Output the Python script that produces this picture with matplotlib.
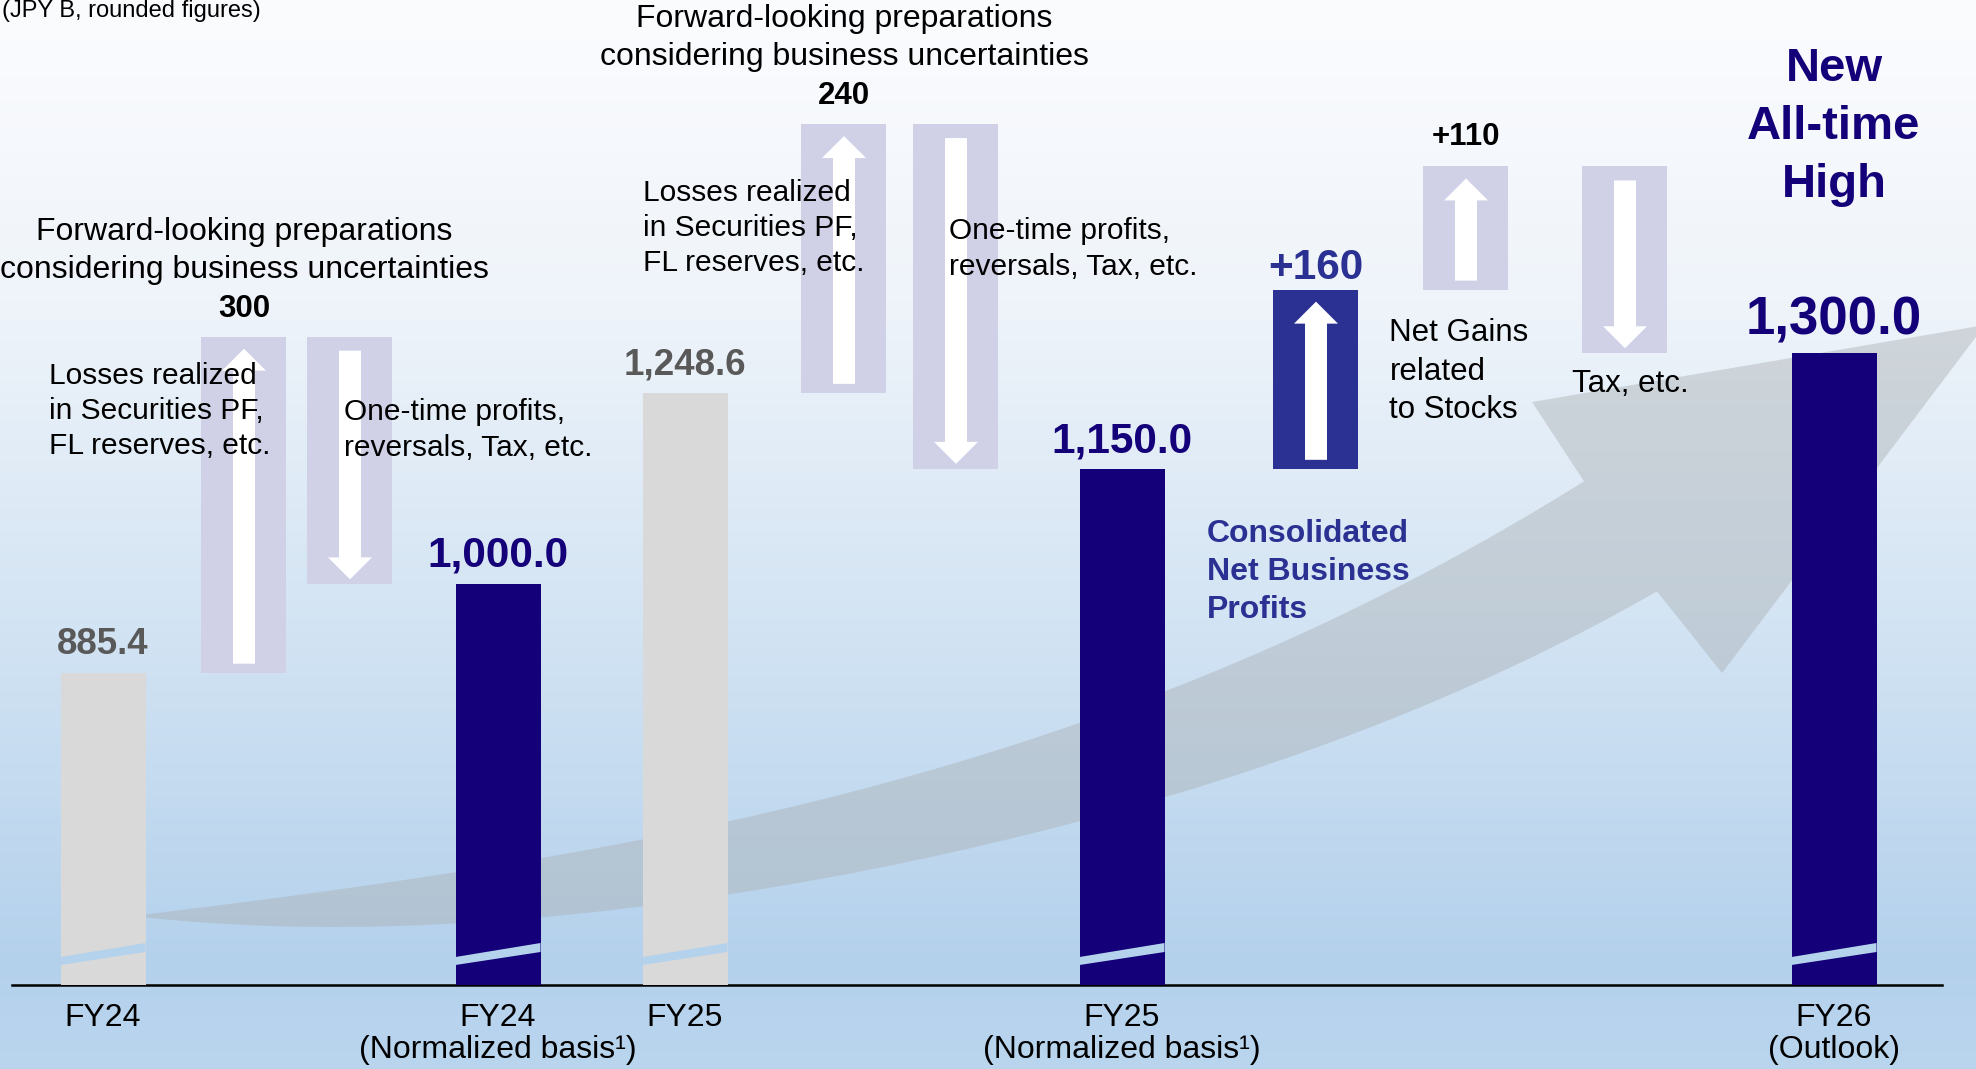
import numpy as np
import matplotlib.pyplot as plt
from matplotlib.patches import Polygon, FancyArrow
from matplotlib.colors import to_rgb

plt.rcParams['font.family'] = ['Liberation Sans', 'DejaVu Sans']

# Data (JPY B, rounded figures)
periods = ["FY24", "FY24\n(Normalized basis\u00b9)", "FY25",
           "FY25\n(Normalized basis\u00b9)", "FY26\n(Outlook)"]
profits = [885.4, 1000.0, 1248.6, 1150.0, 1300.0]
normalized = [False, True, False, True, True]
prep_fy24 = 300      # forward-looking preparations FY24
prep_fy25 = 240      # forward-looking preparations FY25
cnbp_gain = 160      # consolidated net business profits
stock_gain = 110     # net gains related to stocks

# Layout (pixel units, y from the top)
W, H = 1976, 1069
bar_x = [103, 498, 685, 1122, 1834]
box_x = [244, 350, 844, 956, 1316, 1466, 1625]
bar_w = 85
base_px = 985
floor = 480            # value sitting on the (broken) baseline
px_per_val = 0.7704
px_per_delta = 1.12

grey_bar = "#D9D9D9"
navy = "#140078"
mid_navy = "#2A3192"
lavender = "#D0D0E6"

fig = plt.figure(figsize=(W / 100, H / 100), dpi=100)

# background gradient + big grey trend arrow
bg = fig.add_axes([0, 0, 1, 1], zorder=0)
bg.set_xlim(0, W)
bg.set_ylim(H, 0)
bg.axis("off")
stop_y = [0, 300, 600, 960, 1069]
stop_c = [to_rgb(c) for c in ["#FBFCFE", "#EFF4FA", "#D5E5F4", "#B4D1EC", "#BAD5EE"]]
yy = np.arange(H)
grad = np.stack([np.interp(yy, stop_y, [c[i] for c in stop_c]) for i in range(3)], axis=-1)
bg.imshow(grad[:, None, :], extent=[0, W, H, 0], aspect="auto", zorder=0)

up_x = [146, 272, 456, 642, 727, 892, 1080, 1165, 1267, 1373, 1584]
up_y = [915, 897, 873, 840, 822, 780, 723, 690, 650, 600, 481]
lo_x = [146, 272, 456, 642, 727, 900, 1080, 1165, 1600, 1657]
lo_y = [917, 927, 923, 906, 895, 863, 822, 797, 622, 592]
xu = np.linspace(146, 1584, 120)
xl = np.linspace(146, 1657, 120)
yu = np.polyval(np.polyfit(up_x, up_y, 3), xu)
yl = np.polyval(np.polyfit(lo_x, lo_y, 4), xl)
head = [(1532, 402), (1985, 325), (1722, 673)]
pts = list(zip(xu, yu)) + head + list(zip(xl[::-1], yl[::-1]))
bg.add_patch(Polygon(pts, closed=True, facecolor="#ABB1B5", alpha=0.45,
                     edgecolor="none", zorder=1))

# main axes: bottom spine is the baseline
ax = fig.add_axes([12 / W, (H - base_px) / H, (1942 - 12) / W, base_px / H], zorder=2)
ax.patch.set_alpha(0)
ax.set_xlim(12, 1942)
ax.set_ylim(floor, floor + base_px / px_per_val)
for s in ["top", "left", "right"]:
    ax.spines[s].set_visible(False)
ax.spines["bottom"].set_linewidth(1.8)
ax.set_yticks([])
ax.set_xticks(bar_x, periods)
ax.tick_params(axis="x", length=0, pad=13, labelsize=23)
for lbl in ax.get_xticklabels():
    lbl.set_linespacing(1.08)

colors = [navy if n else grey_bar for n in normalized]
ax.bar(bar_x, [v - floor for v in profits], bottom=floor, width=bar_w,
       color=colors, zorder=3)

# axis break marks on each bar
for x in bar_x:
    l, r = x - bar_w / 2, x + bar_w / 2
    yb = [floor + p / px_per_val for p in (20, 28, 42, 33)]
    ax.add_patch(Polygon([(l, yb[0]), (l, yb[1]), (r, yb[2]), (r, yb[3])],
                         closed=True, facecolor="#B4D2EC", edgecolor="none", zorder=4))

# value labels
lab_off = [28, 29, 28, 27, 33]
for x, v, n, off in zip(bar_x, profits, normalized, lab_off):
    ax.annotate(f"{v:,.1f}", (x, v), xytext=(0, off), textcoords="offset pixels",
                ha="center", va="center", fontweight="bold",
                fontsize=38 if v == profits[-1] else (30.5 if n else 26.5),
                color=navy if n else "#595959", zorder=5)

# delta boxes drawn on their own (compressed) scale
axd = ax.twinx()
axd.set_ylim(0, base_px / px_per_delta)
axd.axis("off")


def to_delta(v):
    return axd.transData.inverted().transform(ax.transData.transform((0, v)))[1]


def box(x, y0, y1, color, up):
    lo, hi = min(y0, y1), max(y0, y1)
    axd.bar(x, hi - lo, bottom=lo, width=bar_w, color=color, zorder=3)
    k = px_per_delta
    if up:
        start, end = lo + 9 / k, hi - 12 / k
    else:
        start, end = hi - 14 / k, lo + 5 / k
    axd.add_patch(FancyArrow(x, start, 0, end - start, width=22, head_width=44,
                             head_length=22 / k, length_includes_head=True,
                             color="white", lw=0, zorder=4))
    return lo, hi


title = "Forward-looking preparations\nconsidering business uncertainties"

s0 = to_delta(profits[0])
_, t0 = box(box_x[0], s0, s0 + prep_fy24, lavender, True)
box(box_x[1], t0, to_delta(profits[1]), lavender, False)

s2 = to_delta(profits[2])
_, t2 = box(box_x[2], s2, s2 + prep_fy25, lavender, True)
box(box_x[3], t2, to_delta(profits[3]), lavender, False)

s3 = to_delta(profits[3])
_, t3 = box(box_x[4], s3, s3 + cnbp_gain, mid_navy, True)
_, t4 = box(box_x[5], t3, t3 + stock_gain, lavender, True)
b5, _ = box(box_x[6], t4, to_delta(profits[4]), lavender, False)

for x, top, val in [(box_x[0], t0, prep_fy24), (box_x[2], t2, prep_fy25)]:
    axd.annotate(f"{val}", (x, top), xytext=(0, 28), textcoords="offset pixels",
                 ha="center", va="center", fontsize=22.5, fontweight="bold")
    axd.annotate(title, (x, top), xytext=(0, 86), textcoords="offset pixels",
                 ha="center", va="center", fontsize=23, multialignment="center",
                 linespacing=1.36)

axd.annotate(f"+{cnbp_gain}", (box_x[4], t3), xytext=(0, 22), textcoords="offset pixels",
             ha="center", va="center", fontsize=30.5, fontweight="bold", color=mid_navy)
axd.annotate(f"+{stock_gain}", (box_x[5], t4), xytext=(0, 29), textcoords="offset pixels",
             ha="center", va="center", fontsize=22.5, fontweight="bold")
axd.annotate("Net Gains\nrelated\nto Stocks", (box_x[5] - bar_w / 2, t3), xytext=(-34, -82),
             textcoords="offset pixels", ha="left", va="center", fontsize=22.5,
             linespacing=1.38)
axd.annotate("Tax, etc.", (box_x[6] - bar_w / 2, b5), xytext=(-10, -31),
             textcoords="offset pixels", ha="left", va="center", fontsize=22.5)


def ftext(x, y, s, **kw):
    fig.text(x / W, 1 - y / H, s, va="center", zorder=10, **kw)


losses = "Losses realized\nin Securities PF,\nFL reserves, etc."
onetime = "One-time profits,\nreversals, Tax, etc."
ftext(2, 11, "(JPY B, rounded figures)", fontsize=17)
ftext(49, 411, losses, fontsize=21.5, linespacing=1.32)
ftext(344, 430, onetime, fontsize=21.5, linespacing=1.32)
ftext(643, 228, losses, fontsize=21.5, linespacing=1.32)
ftext(949, 249, onetime, fontsize=21.5, linespacing=1.32)
ftext(1207, 572, "Consolidated\nNet Business\nProfits", fontsize=23,
      fontweight="bold", color=mid_navy, linespacing=1.33)
ftext(1834, 127, "New\nAll-time\nHigh", fontsize=34, fontweight="bold",
      color=navy, ha="center", multialignment="center", linespacing=1.42)

fig.savefig("out.png", dpi=100)
